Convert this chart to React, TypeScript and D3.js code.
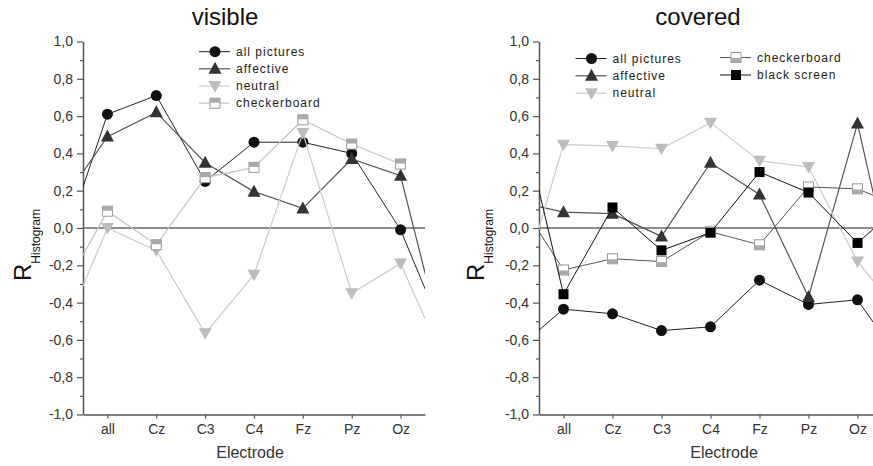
import React, { useEffect, useRef } from "react";
import * as d3 from "d3";

const electrodes = ["all", "Cz", "C3", "C4", "Fz", "Pz", "Oz"];
const yTickValues = [-1, -0.8, -0.6, -0.4, -0.2, 0, 0.2, 0.4, 0.6, 0.8, 1];
const yMinorValues = [-0.9, -0.7, -0.5, -0.3, -0.1, 0.1, 0.3, 0.5, 0.7, 0.9];

// first and last entries are the neighbours just outside the axis (only their lines show)
const visibleAllPictures = [-0.17, 0.61, 0.71, 0.25, 0.46, 0.46, 0.4, -0.01, -0.64];
const visibleAffective = [0.11, 0.49, 0.62, 0.35, 0.195, 0.105, 0.37, 0.28, -0.76];
const visibleNeutral = [-0.62, 0.0, -0.12, -0.565, -0.25, 0.51, -0.35, -0.19, -0.78];
const visibleCheckerboard = [-0.38, 0.09, -0.09, 0.27, 0.325, 0.58, 0.45, 0.343, null];

const coveredAllPictures = [-0.66, -0.435, -0.46, -0.55, -0.53, -0.28, -0.41, -0.385, -0.76];
const coveredAffective = [0.145, 0.085, 0.077, -0.045, 0.35, 0.18, -0.37, 0.56, -0.6];
const coveredNeutral = [-0.447, 0.447, 0.44, 0.425, 0.565, 0.36, 0.327, -0.18, -0.5];
const coveredCheckerboard = [0.185, -0.225, -0.165, -0.18, -0.02, -0.09, 0.22, 0.21, 0.1];
const coveredBlackScreen = [0.755, -0.355, 0.11, -0.12, -0.025, 0.3, 0.19, -0.08, 0.15];

const FONT = "'Liberation Sans', Arial, sans-serif";

type Marker = "circle" | "up" | "down" | "checkTop" | "checkBottom" | "square";
interface Series {
  name: string;
  values: (number | null)[];
  marker: Marker;
  fill: string;
  line: string;
  lineWidth: number;
}

const visibleSeries: Series[] = [
  { name: "all pictures", values: visibleAllPictures, marker: "circle", fill: "#111", line: "#222", lineWidth: 1 },
  { name: "affective", values: visibleAffective, marker: "up", fill: "#333", line: "#555", lineWidth: 1.2 },
  { name: "neutral", values: visibleNeutral, marker: "down", fill: "#bdbdbd", line: "#cbcbcb", lineWidth: 1.2 },
  { name: "checkerboard", values: visibleCheckerboard, marker: "checkTop", fill: "#aaa", line: "#c4c4c4", lineWidth: 1.2 },
];

const coveredSeries: Series[] = [
  { name: "all pictures", values: coveredAllPictures, marker: "circle", fill: "#111", line: "#222", lineWidth: 1 },
  { name: "affective", values: coveredAffective, marker: "up", fill: "#333", line: "#555", lineWidth: 1.2 },
  { name: "neutral", values: coveredNeutral, marker: "down", fill: "#bdbdbd", line: "#cbcbcb", lineWidth: 1.2 },
  { name: "checkerboard", values: coveredCheckerboard, marker: "checkBottom", fill: "#aaa", line: "#555", lineWidth: 1 },
  { name: "black screen", values: coveredBlackScreen, marker: "square", fill: "#000", line: "#111", lineWidth: 1 },
];

function drawMarker(g: d3.Selection<SVGGElement, unknown, null, undefined>, s: Series, cx: number, cy: number) {
  if (s.marker === "circle") {
    g.append("circle").attr("cx", cx).attr("cy", cy).attr("r", 5.5).attr("fill", s.fill);
  } else if (s.marker === "up") {
    g.append("path")
      .attr("d", `M${cx - 6.5},${cy + 5}L${cx + 6.5},${cy + 5}L${cx},${cy - 7}Z`)
      .attr("fill", s.fill);
  } else if (s.marker === "down") {
    g.append("path")
      .attr("d", `M${cx - 6.5},${cy - 5}L${cx + 6.5},${cy - 5}L${cx},${cy + 6.5}Z`)
      .attr("fill", s.fill);
  } else if (s.marker === "square") {
    g.append("rect").attr("x", cx - 5).attr("y", cy - 5).attr("width", 10).attr("height", 10).attr("fill", s.fill);
  } else {
    const top = s.marker === "checkTop";
    g.append("rect").attr("x", cx - 5).attr("y", cy - 5).attr("width", 10).attr("height", 10)
      .attr("fill", "#fff").attr("stroke", "#999").attr("stroke-width", 1);
    g.append("rect").attr("x", cx - 5).attr("y", top ? cy - 5 : cy + 0.5).attr("width", 10).attr("height", 4.5)
      .attr("fill", s.fill);
  }
}

interface PanelOpts {
  id: string;
  title: string;
  titleX: number;
  x0: number;
  x1: number;
  xLabelX: number;
  yLabelX: number;
  series: Series[];
  legend: { x: number; y: number }[];
}

function drawPanel(svg: d3.Selection<SVGSVGElement, unknown, null, undefined>, p: PanelOpts) {
  const top = 41.5;
  const bottom = 414.5;
  const x = d3.scaleLinear().domain([-0.5, 6.5]).range([p.x0, p.x1]);
  const y = d3.scaleLinear().domain([-1, 1]).range([bottom, top]);
  const fmt = d3.formatLocale({ decimal: ",", thousands: ".", grouping: [3], currency: ["", ""], minus: "-" }).format(".1f");

  const g = svg.append("g");

  g.append("text")
    .attr("x", p.titleX).attr("y", 25).attr("text-anchor", "middle")
    .attr("font-family", FONT).attr("font-size", 24).attr("fill", "#111")
    .text(p.title);

  // zero line
  g.append("line")
    .attr("x1", p.x0).attr("x2", p.x1).attr("y1", y(0)).attr("y2", y(0))
    .attr("stroke", "#666").attr("stroke-width", 1.5);

  const styleAxis = (a: d3.Selection<SVGGElement, unknown, null, undefined>, size: number) => {
    a.selectAll("path").attr("stroke", "#555").attr("stroke-width", 1.5);
    a.selectAll("line").attr("stroke", "#555").attr("stroke-width", 1.2);
    a.selectAll("text").attr("font-family", FONT).attr("font-size", size).attr("fill", "#333");
  };

  const yAxis = g.append("g").attr("transform", `translate(${p.x0},0)`)
    .call(d3.axisLeft(y).tickValues(yTickValues).tickFormat((d) => fmt(d as number)).tickSize(6).tickSizeOuter(0).tickPadding(4));
  styleAxis(yAxis, 14);
  const yMinor = g.append("g").attr("transform", `translate(${p.x0},0)`)
    .call(d3.axisLeft(y).tickValues(yMinorValues).tickFormat(() => "").tickSize(3).tickSizeOuter(0));
  styleAxis(yMinor, 14);
  yMinor.select("path").remove();

  const xAxis = g.append("g").attr("transform", `translate(0,${bottom})`)
    .call(d3.axisBottom(x).tickValues(d3.range(electrodes.length)).tickFormat((i) => electrodes[i as number]).tickSize(4).tickSizeOuter(0).tickPadding(6));
  styleAxis(xAxis, 14);

  g.append("text")
    .attr("x", p.xLabelX).attr("y", 458).attr("text-anchor", "middle")
    .attr("font-family", FONT).attr("font-size", 16).attr("fill", "#333")
    .text("Electrode");

  const yl = g.append("text")
    .attr("transform", `translate(${p.yLabelX},281) rotate(-90)`)
    .attr("font-family", FONT).attr("fill", "#111");
  yl.append("tspan").attr("font-size", 24).text("R");
  yl.append("tspan").attr("font-size", 12).attr("dy", 9).text("Histogram");

  g.append("clipPath").attr("id", `clip-${p.id}`)
    .append("rect").attr("x", p.x0).attr("y", top).attr("width", p.x1 - p.x0).attr("height", bottom - top);

  const line = d3.line<[number, number | null]>()
    .defined((d) => d[1] !== null)
    .x((d) => x(d[0]))
    .y((d) => y(d[1] as number));

  p.series.forEach((s) => {
    const pts: [number, number | null][] = s.values.map((v, i) => [i - 1, v]);
    g.append("path")
      .datum(pts)
      .attr("clip-path", `url(#clip-${p.id})`)
      .attr("d", line)
      .attr("fill", "none")
      .attr("stroke", s.line)
      .attr("stroke-width", s.lineWidth);
    const mg = g.append("g");
    pts.filter((d) => d[0] >= 0 && d[0] < electrodes.length && d[1] !== null)
      .forEach((d) => drawMarker(mg, s, x(d[0]), y(d[1] as number)));
  });

  // legend
  p.series.forEach((s, i) => {
    const L = p.legend[i];
    const lg = g.append("g");
    lg.append("line").attr("x1", L.x - 16).attr("x2", L.x + 15).attr("y1", L.y).attr("y2", L.y)
      .attr("stroke", s.line).attr("stroke-width", s.lineWidth);
    drawMarker(lg, s, L.x, L.y);
    lg.append("text")
      .attr("x", L.x + 21).attr("y", L.y).attr("dy", "0.35em")
      .attr("font-family", FONT).attr("font-size", 12).attr("letter-spacing", 1).attr("fill", "#222")
      .text(s.name);
  });
}

const App: React.FC = () => {
  const svgRef = useRef<SVGSVGElement | null>(null);

  useEffect(() => {
    const svg = d3.select(svgRef.current as SVGSVGElement);
    svg.selectAll("*").remove();
    svg.append("rect").attr("width", 873).attr("height", 466).attr("fill", "#fff");

    drawPanel(svg, {
      id: "visible",
      title: "visible",
      titleX: 225,
      x0: 83,
      x1: 425,
      xLabelX: 250,
      yLabelX: 30.5,
      series: visibleSeries,
      legend: [
        { x: 215, y: 51.7 },
        { x: 215, y: 68.8 },
        { x: 215, y: 86 },
        { x: 215, y: 103.2 },
      ],
    });

    drawPanel(svg, {
      id: "covered",
      title: "covered",
      titleX: 698,
      x0: 539,
      x1: 882,
      xLabelX: 724,
      yLabelX: 484,
      series: coveredSeries,
      legend: [
        { x: 591.5, y: 58.5 },
        { x: 591.5, y: 75.8 },
        { x: 591.5, y: 93.2 },
        { x: 736, y: 57.5 },
        { x: 736, y: 75 },
      ],
    });
  }, []);

  return (
    <svg
      ref={svgRef}
      width={873}
      height={466}
      style={{ position: "absolute", left: 0, top: 0, display: "block" }}
    ></svg>
  );
};

export default App;
